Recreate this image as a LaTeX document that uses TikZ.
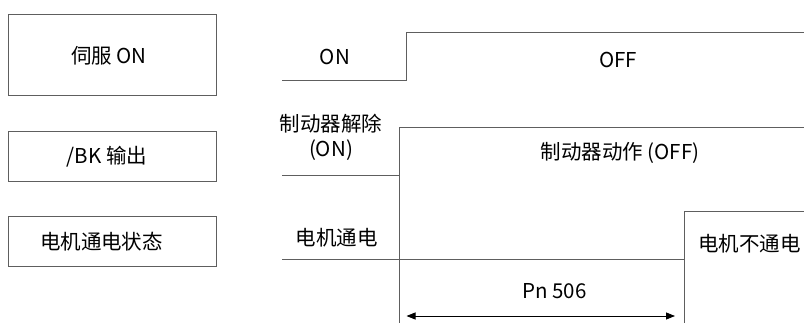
\documentclass[tikz,border=0pt]{standalone}
\usepackage{fontspec}
\setmainfont{Noto Sans CJK SC}
\usetikzlibrary{arrows.meta}
\definecolor{linegray}{HTML}{5E5E5E}
\tikzset{
  sig/.style={draw=linegray, line width=1pt},
  boxstyle/.style={draw=linegray, line width=1pt, rectangle, inner sep=0pt},
  lbl/.style={font=\fontsize{20.5}{25}\selectfont, inner sep=0pt, text=black, align=center},
  dim/.style={draw=black, line width=0.8pt, {Triangle[length=9pt,width=7pt]}-{Triangle[length=9pt,width=7pt]}}
}
\begin{document}
\begin{tikzpicture}[x=1pt,y=-1pt]
\useasboundingbox (0,0) rectangle (804,323);
% left boxes
\node[boxstyle, minimum width=208.5pt, minimum height=81pt] (box1) at (112.25,55.5) {};
\node[boxstyle, minimum width=208.5pt, minimum height=50pt] (box2) at (112.25,157) {};
\node[boxstyle, minimum width=208.5pt, minimum height=50pt] (box3) at (112.25,242) {};
\node[lbl] (t1) at (109,56) {伺服 ON};
\node[lbl] (t2) at (107,157) {/BK 输出};
\node[lbl] (t3) at (101.5,242) {电机通电状态};
% signal 1
\coordinate (s1a) at (282,81);
\coordinate (s1b) at (406,81);
\coordinate (s1c) at (406,32.5);
\coordinate (s1d) at (804,32.5);
\draw[sig] (s1a) -- (s1b) -- (s1c) -- (s1d);
\node[lbl] (on1) at (335,56.5) {ON};
\node[lbl] (off1) at (618,59.5) {OFF};
% signal 2
\coordinate (s2a) at (282,176);
\coordinate (s2b) at (399,176);
\coordinate (s2c) at (399,127.5);
\coordinate (s2d) at (804,127.5);
\coordinate (s2e) at (399,323);
\draw[sig] (s2a) -- (s2b);
\draw[sig] (s2e) -- (s2c) -- (s2d);
\node[lbl] (rel) at (331,137) {制动器解除\\(ON)};
\node[lbl] (act) at (620,153) {制动器动作 (OFF)};
% signal 3
\coordinate (s3a) at (282,260);
\coordinate (s3b) at (684,260);
\coordinate (s3c) at (684,211.5);
\coordinate (s3d) at (804,211.5);
\coordinate (s3e) at (684,323);
\draw[sig] (s3a) -- (s3b) -- (s3c) -- (s3d);
\draw[sig] (s3b) -- (s3e);
\node[lbl] (m1) at (336.5,238) {电机通电};
\node[lbl] (m2) at (749.5,244) {电机不通电};
% dimension
\coordinate (d1) at (406.5,316);
\coordinate (d2) at (675,316);
\draw[dim] (d1) -- (d2);
\node[lbl] (pn) at (554.5,291.5) {Pn 506};
\end{tikzpicture}
\end{document}
